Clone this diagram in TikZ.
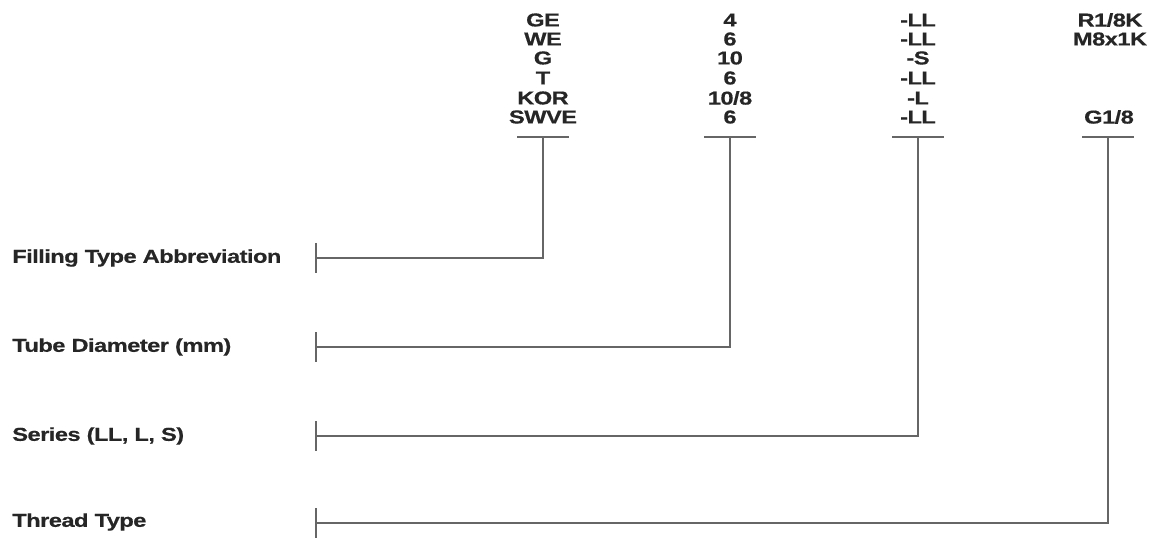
\documentclass[tikz,border=0pt]{standalone}
\usepackage{fontspec}
\setmainfont[FakeStretch=1.27, LetterSpace=-3, FakeBold=0.5]{Liberation Sans}
\usetikzlibrary{calc}

\begin{document}
\begin{tikzpicture}[
    x=0.75pt, y=-0.75pt,
    every node/.style={font=\bfseries\fontsize{14}{16}\selectfont, text=black!85, inner sep=0pt},
    lead/.style={draw=black!60, line width=1.1pt},
]
\useasboundingbox (0,0) rectangle (1153,538);
% code columns: type, diameter, series, thread
\node (ge)   at (543,20)  {GE};
\node (we)   at (543,39)  {WE};
\node (g)    at (543,58)  {G};
\node (t)    at (543,78)  {T};
\node (kor)  at (543,98)  {KOR};
\node (swve) at (543,117) {SWVE};
\node (d4)   at (730,20)  {4};
\node (d6a)  at (730,39)  {6};
\node (d10)  at (730,58)  {10};
\node (d6b)  at (730,78)  {6};
\node (d108) at (730,98)  {10/8};
\node (d6c)  at (730,117) {6};
\node (sa)   at (918,20)  {-LL};
\node (sb)   at (918,39)  {-LL};
\node (sc)   at (918,58)  {-S};
\node (sd)   at (918,78)  {-LL};
\node (se)   at (918,98)  {-L};
\node (sf)   at (918,117) {-LL};
\node (ra)   at (1110,20)  {R1/8K};
\node (rb)   at (1110,39)  {M8x1K};
\node (rf)   at (1109,117) {G1/8};
% field descriptions
\node[anchor=west] (fill)   at (12,258) {Filling Type Abbreviation};
\node[anchor=west] (tube)   at (12,347) {Tube Diameter (mm)};
\node[anchor=west] (series) at (12,436) {Series (LL, L, S)};
\node[anchor=west] (thread) at (12,522) {Thread Type};
% underline centres and left ticks
\coordinate (u1) at (543,137);
\coordinate (u2) at (730,137);
\coordinate (u3) at (918,137);
\coordinate (u4) at (1108,137);
\coordinate (k1) at (316,258);
\coordinate (k2) at (316,347);
\coordinate (k3) at (316,436);
\coordinate (k4) at (316,523);
% underlines
\draw[lead] ($(u1)+(-26,0)$) -- ($(u1)+(26,0)$);
\draw[lead] ($(u2)+(-26,0)$) -- ($(u2)+(26,0)$);
\draw[lead] ($(u3)+(-26,0)$) -- ($(u3)+(26,0)$);
\draw[lead] ($(u4)+(-26,0)$) -- ($(u4)+(26,0)$);
% ticks
\draw[lead] ($(k1)+(0,-15)$) -- ($(k1)+(0,15)$);
\draw[lead] ($(k2)+(0,-15)$) -- ($(k2)+(0,15)$);
\draw[lead] ($(k3)+(0,-15)$) -- ($(k3)+(0,15)$);
\draw[lead] ($(k4)+(0,-15)$) -- ($(k4)+(0,15)$);
% leaders
\draw[lead] (k1) -| (u1);
\draw[lead] (k2) -| (u2);
\draw[lead] (k3) -| (u3);
\draw[lead] (k4) -| (u4);
\end{tikzpicture}
\end{document}
